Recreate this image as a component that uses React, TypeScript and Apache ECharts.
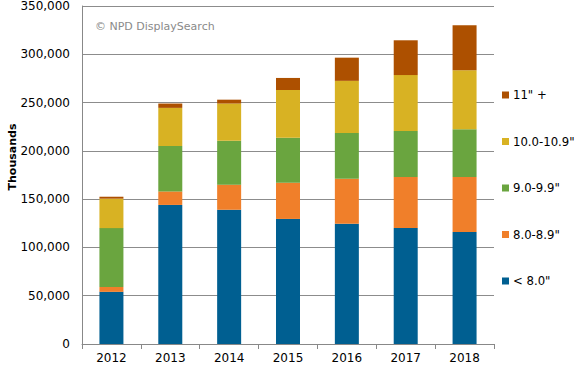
import React, { useEffect, useRef } from "react";
import * as echarts from "echarts";

const years = ["2012", "2013", "2014", "2015", "2016", "2017", "2018"];
const seriesNames = ["< 8.0\"", "8.0-8.9\"", "9.0-9.9\"", "10.0-10.9\"", "11\" +"];
const lt8 = [54000, 144000, 139000, 129500, 124500, 120000, 116000];
const s8 = [5000, 14000, 26000, 37500, 46500, 53000, 57000];
const s9 = [61000, 47000, 45500, 46500, 47500, 47500, 49500];
const s10 = [30500, 39500, 38500, 49500, 54000, 58000, 61000];
const s11 = [2000, 4500, 4000, 12500, 24000, 36000, 46500];
const colors = ["#005F91", "#F07F2A", "#6AA53F", "#D8B223", "#AD5000"];

const FONT = "DejaVu Sans, Verdana, sans-serif";

export default function App() {
  const ref = useRef<HTMLDivElement>(null);
  useEffect(() => {
    if (!ref.current) return;
    const chart = echarts.init(ref.current, null, { renderer: "svg" });
    const data = [lt8, s8, s9, s10, s11];
    chart.setOption({
      animation: false,
      backgroundColor: "#ffffff",
      textStyle: { fontFamily: FONT },
      grid: { left: 82, right: 87, top: 6, bottom: 23, containLabel: false },
      legend: {
        orient: "vertical",
        left: 502,
        top: 89,
        padding: 0,
        itemGap: 34.5,
        itemWidth: 7,
        itemHeight: 7,
        icon: "rect",
        data: seriesNames.slice().reverse(),
        textStyle: { fontFamily: FONT, fontSize: 11.7, color: "#000", padding: [0, 0, 0, -1] },
      },
      xAxis: {
        type: "category",
        data: years,
        axisLine: { lineStyle: { color: "#888", width: 1 } },
        axisTick: { show: true, length: 5, lineStyle: { color: "#888" } },
        axisLabel: { fontFamily: FONT, fontSize: 12, color: "#000", margin: 8 },
      },
      yAxis: {
        type: "value",
        min: 0,
        max: 350000,
        interval: 50000,
        axisLine: { show: true, lineStyle: { color: "#888", width: 1 } },
        axisTick: { show: false },
        splitLine: { lineStyle: { color: "#8c8c8c", width: 1 } },
        axisLabel: {
          fontFamily: FONT,
          fontSize: 12,
          color: "#000",
          margin: 12,
          formatter: (v: number) => v.toLocaleString("en-US"),
        },
      },
      graphic: [
        {
          type: "text",
          x: 12,
          y: 157,
          rotation: Math.PI / 2,
          style: {
            text: "Thousands",
            fontFamily: FONT,
            fontSize: 11,
            fontWeight: "bold",
            fill: "#000",
            align: "center",
            verticalAlign: "middle",
          },
        },
        {
          type: "text",
          x: 95,
          y: 26,
          style: {
            text: "© NPD DisplaySearch",
            fontFamily: FONT,
            fontSize: 11,
            fill: "#8a8a8a",
            verticalAlign: "middle",
          },
        },
      ],
      series: seriesNames.map((name, i) => ({
        name,
        type: "bar",
        stack: "total",
        barWidth: 24,
        itemStyle: { color: colors[i] },
        data: data[i],
      })),
    });
    return () => chart.dispose();
  }, []);
  return <div ref={ref} style={{ width: 581, height: 367, position: "absolute", left: 0, top: 0 }} />;
}
